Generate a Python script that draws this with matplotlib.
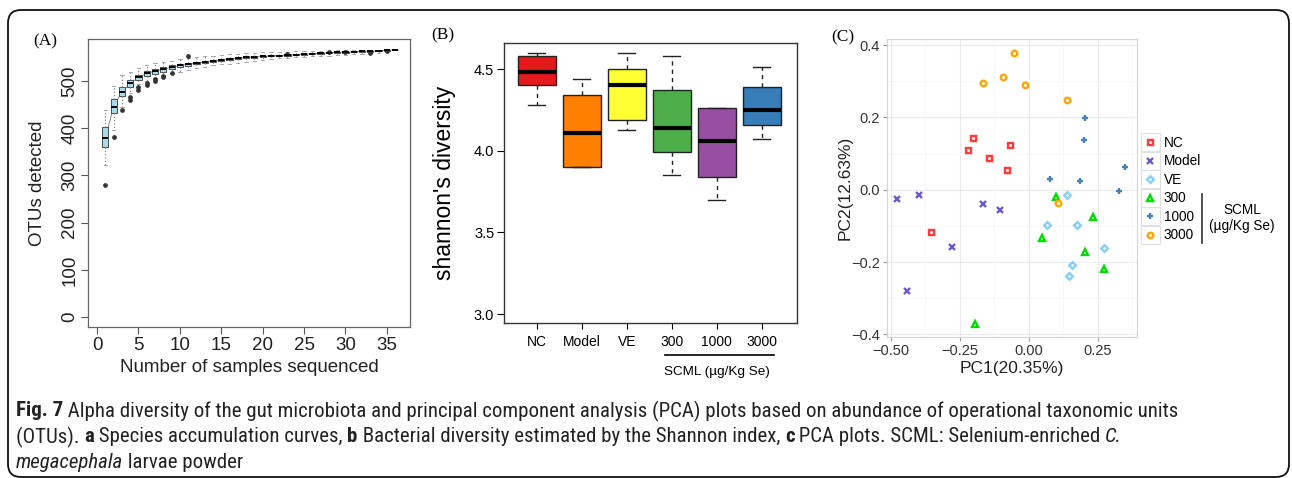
import matplotlib
matplotlib.use('Agg')
import matplotlib.pyplot as plt
from matplotlib import font_manager
from matplotlib.patches import FancyBboxPatch, Rectangle
from matplotlib.lines import Line2D
import matplotlib.transforms as mtrans

# ---------------- data ----------------
# (A) species accumulation: box statistics for each number of samples
n_samples = list(range(1, 37))
acc_med = [380, 446, 477, 495, 508, 516, 521, 525, 529, 533, 535, 538, 540, 542, 545, 547, 548, 550,
           551, 552, 553, 554, 555, 556, 557, 558, 559, 560, 561, 561, 562, 563, 563, 564, 565, 566]
acc_q1 = [360, 433, 468, 488, 502, 510, 515, 520, 525, 529, 532, 535, 538, 540, 542, 544, 546, 548,
          549, 550, 552, 553, 554, 555, 556, 557, 558, 559, 560, 560, 561, 562, 562, 563, 564, 566]
acc_q3 = [403, 461, 487, 502, 513, 521, 526, 530, 533, 536, 538, 540, 542, 545, 547, 549, 550, 552,
          553, 554, 555, 556, 557, 558, 558, 559, 560, 561, 562, 562, 563, 564, 564, 565, 565, 566]
acc_lo = [322, 396, 446, 475, 493, 500, 507, 513, 518, 520, 523, 527, 530, 533, 535, 537, 539, 541,
          543, 545, 546, 548, 549, 550, 551, 552, 553, 554, 555, 556, 557, 558, 559, 560, 561, 566]
acc_hi = [439, 489, 513, 520, 527, 534, 538, 541, 543, 546, 548, 550, 552, 554, 556, 557, 558, 559,
          560, 561, 561, 562, 562, 563, 563, 564, 564, 564, 565, 565, 565, 565, 566, 566, 566, 566]
acc_fliers = {1: [280], 2: [382], 3: [438], 4: [467, 460], 5: [488, 482], 6: [495, 491],
              7: [504, 501], 8: [511, 508], 9: [516], 11: [552], 23: [557], 28: [561],
              30: [561], 33: [560], 35: [564]}

# (B) shannon diversity
groups = ['NC', 'Model', 'VE', '300', '1000', '3000']
sh_lo = [4.28, 3.90, 4.13, 3.85, 3.70, 4.07]
sh_q1 = [4.40, 3.90, 4.19, 3.99, 3.84, 4.16]
sh_med = [4.48, 4.11, 4.40, 4.14, 4.06, 4.25]
sh_q3 = [4.58, 4.34, 4.50, 4.37, 4.26, 4.39]
sh_hi = [4.60, 4.44, 4.60, 4.58, 4.26, 4.51]
box_colors = ['#E41A1C', '#FF7F00', '#FFFF33', '#4DAF4A', '#984EA3', '#377EB8']

# (C) PCA scores
pc_nc_x = [-0.200, -0.218, -0.067, -0.145, -0.078, -0.354]
pc_nc_y = [0.144, 0.111, 0.124, 0.087, 0.056, -0.117]
pc_model_x = [-0.478, -0.396, -0.164, -0.105, -0.279, -0.442]
pc_model_y = [-0.025, -0.013, -0.038, -0.056, -0.158, -0.281]
pc_ve_x = [0.138, 0.068, 0.174, 0.272, 0.155, 0.145]
pc_ve_y = [-0.013, -0.097, -0.096, -0.160, -0.207, -0.239]
pc_300_x = [0.099, 0.232, 0.047, 0.203, 0.274, -0.193]
pc_300_y = [-0.019, -0.076, -0.133, -0.173, -0.218, -0.371]
pc_1000_x = [0.204, 0.199, 0.078, 0.187, 0.350, 0.327]
pc_1000_y = [0.199, 0.137, 0.029, 0.023, 0.064, -0.002]
pc_3000_x = [-0.052, -0.094, -0.167, -0.013, 0.138, 0.105]
pc_3000_y = [0.379, 0.311, 0.296, 0.290, 0.249, -0.037]

W, H = 1292, 478
fig = plt.figure(figsize=(W / 100, H / 100), dpi=100)
SANS = 'Liberation Sans'
SERIF = 'Liberation Serif'


def rect(l, t, r, b):
    return [l / W, 1 - b / H, (r - l) / W, (b - t) / H]


# outer rounded frame
frame = FancyBboxPatch((0.08, 0.01), 12.81, 4.67, boxstyle='round,pad=0,rounding_size=0.13',
                       transform=fig.dpi_scale_trans, fill=False, ec='#111111', lw=1.3)
fig.patches.append(frame)

# ---------------- (A) ----------------
axA = fig.add_axes(rect(88, 39, 410, 327))
stats = []
for i, n in enumerate(n_samples):
    stats.append(dict(med=acc_med[i], q1=acc_q1[i], q3=acc_q3[i], whislo=acc_lo[i],
                      whishi=acc_hi[i], fliers=acc_fliers.get(n, [])))
axA.plot(n_samples, acc_med, color='#777777', lw=0.6, zorder=1)
axA.bxp(stats, positions=n_samples, widths=0.75, capwidths=0.4, patch_artist=True,
        boxprops=dict(facecolor='#A9DAEA', edgecolor='#333333', lw=0.6),
        medianprops=dict(color='black', lw=1.4),
        whiskerprops=dict(color='#888888', ls=':', lw=0.9),
        capprops=dict(color='#999999', lw=0.6),
        flierprops=dict(marker='o', ms=2.4, mfc='#333333', mec='#333333'))
axA.set_xlim(-1.1, 37.8)
axA.set_ylim(-21, 589)
axA.set_xticks(range(0, 36, 5))
axA.set_xticklabels([str(v) for v in range(0, 36, 5)])
axA.set_yticks(range(0, 501, 100))
axA.set_yticklabels([str(v) for v in range(0, 501, 100)], rotation=90, va='center')
axA.tick_params(direction='out', length=5, width=0.8, color='#555555', labelsize=13.5,
                labelcolor='#222222', pad=2)
for lab in axA.get_xticklabels() + axA.get_yticklabels():
    lab.set_fontfamily(SANS)
for s in axA.spines.values():
    s.set_color('#666666')
    s.set_linewidth(0.9)
axA.set_xlabel('Number of samples sequenced', fontsize=13.5, family=SANS, color='#222222')
axA.set_ylabel('OTUs detected', fontsize=13.5, family=SANS, color='#222222')
axA.xaxis.set_label_coords(0.5, (327 - 367) / 288)
axA.xaxis.label.set_va('center')
axA.yaxis.set_label_coords((37 - 88) / 322, 0.5)
axA.yaxis.label.set_va('center')
fig.text(45 / W, 1 - 41 / H, '(A)', family=SERIF, fontsize=12.5, ha='center', va='center')

# ---------------- (B) ----------------
axB = fig.add_axes(rect(504, 43, 797, 323))
bstats = []
for i, g in enumerate(groups):
    bstats.append(dict(med=sh_med[i], q1=sh_q1[i], q3=sh_q3[i], whislo=sh_lo[i],
                       whishi=sh_hi[i], fliers=[], label=g))
bp = axB.bxp(bstats, positions=range(1, 7), widths=0.84, capwidths=0.38, patch_artist=True,
             boxprops=dict(edgecolor='#222222', lw=1.0),
             medianprops=dict(color='black', lw=3.0),
             whiskerprops=dict(color='#222222', ls=(0, (3, 3)), lw=1.0),
             capprops=dict(color='#222222', lw=1.0))
for patch, c in zip(bp['boxes'], box_colors):
    patch.set_facecolor(c)
axB.set_xlim(0.27, 6.78)
axB.set_ylim(2.945, 4.66)
axB.set_yticks([3.0, 3.5, 4.0, 4.5])
axB.set_yticklabels(['3.0', '3.5', '4.0', '4.5'])
axB.set_xticks(range(1, 7))
axB.set_xticklabels(groups)
axB.tick_params(axis='y', direction='out', length=5, labelsize=10.5, pad=2)
axB.tick_params(axis='x', direction='out', length=4, labelsize=10, pad=5)
for lab in axB.get_xticklabels() + axB.get_yticklabels():
    lab.set_fontfamily(SANS)
for s in axB.spines.values():
    s.set_color('#333333')
    s.set_linewidth(1.0)
axB.set_ylabel("shannon's diversity", fontsize=16.5, family=SANS)
axB.yaxis.set_label_coords((445 - 504) / 293, 0.5)
axB.yaxis.label.set_va('center')
tB = mtrans.blended_transform_factory(axB.transData, axB.transAxes)
axB.add_line(Line2D([3.84, 6.27], [-0.114, -0.114], transform=tB, color='black', lw=1.2,
                    clip_on=False))
axB.text(5.0, -0.175, 'SCML (\u00b5g/Kg Se)', transform=tB, ha='center', va='center',
         fontsize=9.7, family=SANS)
fig.text(443 / W, 1 - 35 / H, '(B)', family=SERIF, fontsize=12.5, ha='center', va='center')

# ---------------- (C) ----------------
axC = fig.add_axes(rect(887, 39, 1137, 337))
series = [
    ('NC', pc_nc_x, pc_nc_y, 's', '#FF3B3B', 3.6),
    ('Model', pc_model_x, pc_model_y, 'x', '#6A5ACD', 4.0),
    ('VE', pc_ve_x, pc_ve_y, 'D', '#87CEFA', 3.4),
    ('300', pc_300_x, pc_300_y, '^', '#00DD00', 4.3),
    ('1000', pc_1000_x, pc_1000_y, '+', '#4682B4', 5.0),
    ('3000', pc_3000_x, pc_3000_y, 'o', '#FFA500', 4.0),
]
handles = []
for name, xs, ys, m, c, ms in series:
    h, = axC.plot(xs, ys, ls='none', marker=m, ms=ms, mfc='none', mec=c, mew=1.7, label=name)
    handles.append(h)
axC.set_xlim(-0.513, 0.392)
axC.set_ylim(-0.407, 0.417)
axC.set_xticks([-0.5, -0.25, 0.0, 0.25])
axC.set_xticklabels(['\u22120.50', '\u22120.25', '0.00', '0.25'])
axC.set_yticks([-0.4, -0.2, 0.0, 0.2, 0.4])
axC.set_yticklabels(['\u22120.4', '\u22120.2', '0.0', '0.2', '0.4'])
axC.set_xticks([-0.375, -0.125, 0.125, 0.375], minor=True)
axC.set_yticks([-0.3, -0.1, 0.1, 0.3], minor=True)
axC.grid(True, which='major', color='#EBEBEB', lw=0.8)
axC.grid(True, which='minor', color='#F5F5F5', lw=0.5)
axC.set_axisbelow(True)
axC.tick_params(which='major', direction='out', length=3, color='#999999', labelsize=10.5,
                labelcolor='#333333', pad=2)
axC.tick_params(which='minor', length=0)
for lab in axC.get_xticklabels() + axC.get_yticklabels():
    lab.set_fontfamily(SANS)
for s in axC.spines.values():
    s.set_color('#D5D5D5')
    s.set_linewidth(0.8)
axC.set_xlabel('PC1(20.35%)', fontsize=12.5, family=SANS, color='#222222')
axC.set_ylabel('PC2(12.63%)', fontsize=12.5, family=SANS, color='#222222')
axC.xaxis.set_label_coords(0.5, (337 - 369) / 298)
axC.xaxis.label.set_va('center')
axC.yaxis.set_label_coords((845 - 887) / 250, 0.5)
axC.yaxis.label.set_va('center')
fig.text(843 / W, 1 - 37 / H, '(C)', family=SERIF, fontsize=12.5, ha='center', va='center')

leg = fig.legend(handles=handles, labels=[s[0] for s in series], loc='upper left',
                 bbox_to_anchor=(1144 / W, 1 - 136 / H), frameon=False,
                 prop=dict(family=SANS, size=9.8), handlelength=0.9, handletextpad=0.55,
                 labelspacing=0.33, borderpad=0, borderaxespad=0)
fig.add_artist(Line2D([1202 / W, 1202 / W], [1 - 194 / H, 1 - 243 / H], transform=fig.transFigure,
                      color='#333333', lw=1.2))
fig.text(1242 / W, 1 - 218 / H, 'SCML\n(\u00b5g/Kg Se)', family=SANS, fontsize=9.8,
         ha='center', va='center', linespacing=1.1)

# ggplot-like key boxes behind the legend symbols
renderer = fig.canvas.get_renderer()
fig.canvas.draw()
for h in leg.legend_handles:
    bb = h.get_window_extent(renderer)
    cx, cy = (bb.x0 + bb.x1) / 2, (bb.y0 + bb.y1) / 2
    fig.patches.append(Rectangle((cx - 9.5, cy - 9), 19, 18, transform=mtrans.IdentityTransform(),
                                 fc='white', ec='#E0E0E0', lw=0.8, zorder=0))

# ---------------- caption ----------------
# pick a condensed sans that has a regular upright face, else Open Sans
def regular_face(name, stretch=None):
    for f in font_manager.fontManager.ttflist:
        if f.name != name or f.style != 'normal':
            continue
        if f.weight not in (400, 'normal', 'regular', 'book', 'Regular'):
            continue
        if stretch is not None and f.stretch not in stretch:
            continue
        return True
    return False


cap_font, cap_stretch = 'Open Sans', 'normal'
picked = False
for cand in ['Liberation Sans Narrow', 'Open Sans Condensed', 'Roboto Condensed',
             'Noto Sans Condensed']:
    if regular_face(cand):
        cap_font, picked = cand, True
        break
if not picked:
    for cand in ['Open Sans', 'Noto Sans', 'Roboto']:
        if regular_face(cand, stretch=('condensed', 'semi-condensed', 75, 87.5)):
            cap_font, cap_stretch = cand, 'condensed'
            break

cap_lines = [
    [('Fig. 7', 'bold'), (' Alpha diversity of the gut microbiota and principal component analysis '
                          '(PCA) plots based on abundance of operational taxonomic units', 'normal')],
    [('(OTUs). ', 'normal'), ('a', 'bold'), (' Species accumulation curves, ', 'normal'), ('b', 'bold'),
     (' Bacterial diversity estimated by the Shannon index, ', 'normal'), ('c', 'bold'),
     (' PCA plots. SCML: Selenium-enriched ', 'normal'), ('C.', 'italic')],
    [('megacephala', 'italic'), (' larvae powder', 'normal')],
]


def style_kw(st, size):
    kw = dict(family=cap_font, fontsize=size, fontstretch=cap_stretch)
    if st == 'bold':
        kw['fontweight'] = 'bold'
    if st == 'italic':
        kw['fontstyle'] = 'italic'
    return kw


def piece_width(s, kw):
    t1 = fig.text(0, 0, 'x' + s + 'x', **kw)
    t0 = fig.text(0, 0, 'xx', **kw)
    w = t1.get_window_extent(renderer).width - t0.get_window_extent(renderer).width
    t1.remove()
    t0.remove()
    return w


base = 10.0
w_line1 = sum(piece_width(s, style_kw(st, base)) for s, st in cap_lines[0])
cap_size = min(base * 1248 / w_line1, 15.0)

for y, line in zip([411, 437, 462], cap_lines):
    x = 16
    for s, st in line:
        kw = style_kw(st, cap_size)
        fig.text(x / W, 1 - y / H, s, va='center', ha='left', color='#222222', **kw)
        x += piece_width(s, kw)

fig.savefig('out.png', dpi=100)
